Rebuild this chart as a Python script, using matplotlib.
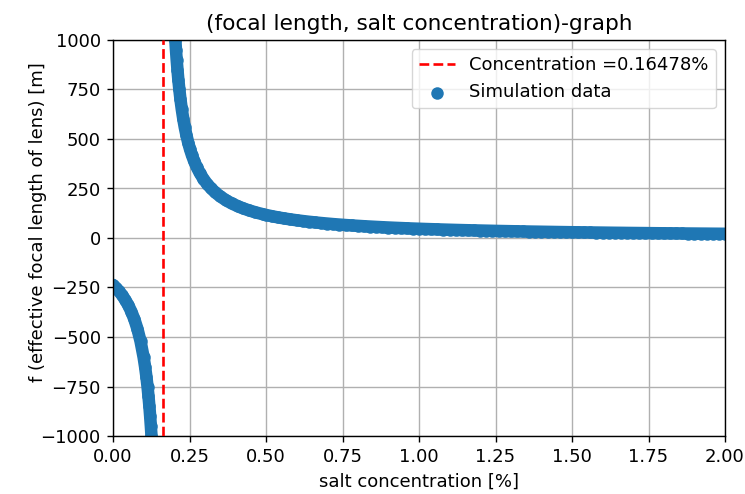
import matplotlib
matplotlib.use("Agg")
import matplotlib.pyplot as plt

# Simulation data (salt concentration [%], focal length [m])
left_x = [0.00, 0.01, 0.02, 0.03, 0.04, 0.05, 0.06, 0.07, 0.08, 0.09, 0.10,
          0.1048, 0.1091, 0.1128, 0.1160, 0.1189, 0.1214, 0.1237, 0.1258, 0.1293]
left_y = [-236.7, -252.0, -269.4, -289.4, -312.6, -339.8, -372.2, -411.5, -460.0, -521.5, -602.0,
          -650, -700, -750, -800, -850, -900, -950, -1000, -1100]

steep_x = [0.2002, 0.2038, 0.2058, 0.2081, 0.2107, 0.2135, 0.2168, 0.2205, 0.2248, 0.2298,
           0.2344, 0.2398, 0.2460, 0.2514, 0.2576, 0.2648, 0.2731, 0.2830, 0.2948, 0.3066,
           0.3208, 0.3344, 0.3505, 0.3700, 0.3876, 0.4085, 0.4248, 0.4434, 0.4648, 0.4898]
steep_y = [1100, 1000, 950, 900, 850, 800, 750, 700, 650, 600,
           560, 520, 480, 450, 420, 390, 360, 330, 300, 275,
           250, 230, 210, 190, 175, 160, 150, 140, 130, 120]

tail_x = [0.50, 0.52, 0.54, 0.56, 0.58, 0.60, 0.62, 0.64, 0.66, 0.68,
          0.70, 0.72, 0.74, 0.76, 0.78, 0.80, 0.82, 0.84, 0.86, 0.88,
          0.90, 0.92, 0.94, 0.96, 0.98, 1.00, 1.02, 1.04, 1.06, 1.08,
          1.10, 1.12, 1.14, 1.16, 1.18, 1.20, 1.22, 1.24, 1.26, 1.28,
          1.30, 1.32, 1.34, 1.36, 1.38, 1.40, 1.42, 1.44, 1.46, 1.48,
          1.50, 1.52, 1.54, 1.56, 1.58, 1.60, 1.62, 1.64, 1.66, 1.68,
          1.70, 1.72, 1.74, 1.76, 1.78, 1.80, 1.82, 1.84, 1.86, 1.88,
          1.90, 1.92, 1.94, 1.96, 1.98, 2.00]
tail_y = [116.3, 109.8, 103.9, 98.7, 93.9, 89.6, 85.7, 82.1, 78.8, 75.7,
          72.9, 70.2, 67.8, 65.5, 63.4, 61.4, 59.5, 57.8, 56.1, 54.5,
          53.0, 51.6, 50.3, 49.0, 47.8, 46.7, 45.6, 44.6, 43.6, 42.6,
          41.7, 40.8, 40.0, 39.2, 38.4, 37.7, 37.0, 36.3, 35.6, 35.0,
          34.4, 33.8, 33.2, 32.6, 32.1, 31.6, 31.1, 30.6, 30.1, 29.7,
          29.2, 28.8, 28.4, 28.0, 27.6, 27.2, 26.8, 26.4, 26.1, 25.7,
          25.4, 25.1, 24.8, 24.4, 24.1, 23.8, 23.6, 23.3, 23.0, 22.7,
          22.5, 22.2, 22.0, 21.7, 21.5, 21.3]

critical_conc = 0.16478
x_lim = [0.0, 2.0]
y_lim = [-1000, 1000]
x_ticks = [0.00, 0.25, 0.50, 0.75, 1.00, 1.25, 1.50, 1.75, 2.00]
y_ticks = [-1000, -750, -500, -250, 0, 250, 500, 750, 1000]

plt.rcParams.update({
    'font.size': 13,
    'axes.linewidth': 1.0,
    'xtick.major.width': 1.0,
    'ytick.major.width': 1.0,
    'xtick.major.size': 4.4,
    'ytick.major.size': 4.4,
    'xtick.major.pad': 4.4,
    'ytick.major.pad': 4.4,
})
fig = plt.figure(figsize=(7.45, 4.94), dpi=100)
ax = fig.add_axes([113/745, 1 - 436/494, (725-113)/745, (436-40)/494])

blue = '#1f77b4'
ax.axvline(critical_conc, color='red', linestyle='--', linewidth=1.9,
           dashes=(3.7, 1.6),
           label='Concentration =' + str(critical_conc) + '%', zorder=3)
# dense simulation points: smooth band through the same points + markers
for bx, by in ((left_x, left_y), (steep_x + tail_x, steep_y + tail_y)):
    ax.plot(bx, by, color=blue, linewidth=9, solid_capstyle='round',
            solid_joinstyle='round', zorder=2)
ax.scatter(left_x + steep_x + tail_x, left_y + steep_y + tail_y, s=81, color=blue,
           label='Simulation data', zorder=2, linewidths=0)

ax.set_xlim(x_lim)
ax.set_ylim(y_lim)
ax.set_xticks(x_ticks)
ax.set_yticks(y_ticks)
ax.set_xticklabels([f"{t:.2f}" for t in x_ticks])
ax.grid(True, color='#b0b0b0', linewidth=1.0)
ax.set_axisbelow(True)
ax.set_xlabel('salt concentration [%]', labelpad=4.4)
ax.set_ylabel('f (effective focal length of lens) [m]')
ax.yaxis.set_label_coords((47 - 113) / 612, (436 - 222) / 396)
ax.set_title('(focal length, salt concentration)-graph', fontsize=15.6, pad=7)
ax.legend(loc='upper right', fontsize=13)

fig.savefig('out.png', dpi=100)
